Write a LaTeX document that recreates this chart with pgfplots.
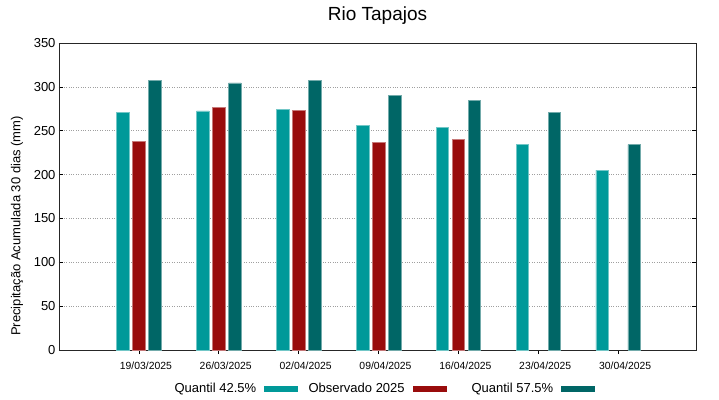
\documentclass[border=0pt]{standalone}
\usepackage{pgfplots}
\pgfplotsset{compat=1.18}
\usepackage{fontspec}
\setmainfont{Liberation Sans}
\definecolor{qa}{RGB}{0,153,153}
\definecolor{ob}{RGB}{153,12,12}
\definecolor{qb}{RGB}{0,102,102}
\begin{document}
\begin{tikzpicture}
\useasboundingbox (-59pt,-49pt) rectangle (660pt,350pt);
\begin{axis}[
  at={(0,0)}, anchor=south west,
  scale only axis, width=637pt, height=307pt,
  xmin=-1, xmax=6.975, ymin=0, ymax=350,
  ytick={0,50,...,350},
  xtick={0,1,2,3,4,5,6},
  xticklabels={19/03/2025,26/03/2025,02/04/2025,09/04/2025,16/04/2025,23/04/2025,30/04/2025},
  /pgf/number format/assume math mode=true,
  tick align=inside,
  xtick pos=bottom,
  ytick pos=both,
  major tick length=4pt,
  tick style={black, line width=0.6pt},
  axis line style={black!85, line width=0.8pt},
  ymajorgrids,
  grid style={dotted, gray!75, line width=0.6pt},
  yticklabel style={font=\fontsize{13}{15}\selectfont},
  xticklabel style={font=\fontsize{10.4}{12}\selectfont, xshift=7pt, yshift=-4pt},
  ylabel={Precipitação Acumulada 30 dias (mm)},
  every axis y label/.style={at={(axis description cs:-0.066,0.404)}, rotate=90, anchor=center, font=\fontsize{13}{15}\selectfont},
  title={Rio Tapajos},
  title style={at={(axis description cs:0.5,1)}, anchor=center, yshift=21pt, font=\fontsize{19}{22}\selectfont},
  ybar, bar width=12.5pt,
  legend columns=3,
  legend plot pos=right,
  legend style={draw=none, fill=none, inner sep=0pt, column sep=0pt,
    nodes={inner sep=0pt, font=\fontsize{13}{15}\selectfont},
    at={(axis description cs:0,0)}, anchor=west, xshift=97pt, yshift=-39pt},
]
\addplot[fill=qa, draw=qa!55!white, line width=0.5pt, bar shift=-16pt,
  legend image code/.code={\fill[qa] (0pt,-2.5pt) rectangle (33pt,2.5pt); \path (40pt,0pt);}]
  coordinates {(0,270.5) (1,272.5) (2,274.5) (3,256) (4,254) (5,234) (6,205)};
\addlegendentry{\makebox[108pt][r]{Quantil 42.5\%\hspace{8pt}}}
\addplot[fill=ob, draw=ob!55!white, line width=0.5pt, bar shift=0pt,
  legend image code/.code={\fill[ob] (0pt,-2.5pt) rectangle (33pt,2.5pt); \path (40pt,0pt);}]
  coordinates {(0,237.5) (1,277) (2,273.5) (3,236.5) (4,240)};
\addlegendentry{\makebox[108pt][r]{Observado 2025\hspace{8pt}}}
\addplot[fill=qb, draw=qb!55!white, line width=0.5pt, bar shift=16pt,
  legend image code/.code={\fill[qb] (0pt,-2.5pt) rectangle (33pt,2.5pt); \path (40pt,0pt);}]
  coordinates {(0,307) (1,304.5) (2,307) (3,290) (4,284.5) (5,271) (6,234)};
\addlegendentry{\makebox[108pt][r]{Quantil 57.5\%\hspace{8pt}}}
\end{axis}
\end{tikzpicture}
\end{document}
